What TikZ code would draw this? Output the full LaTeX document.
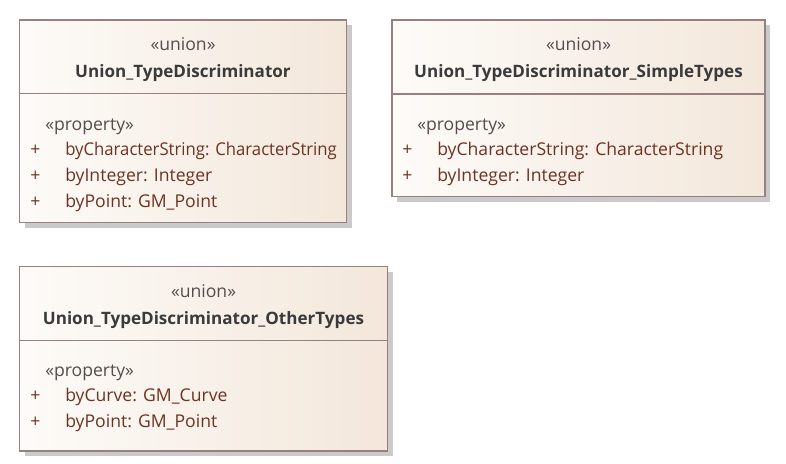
\documentclass[tikz,border=0pt]{standalone}
\usepackage{fontspec}
\usepackage{graphicx}
\setmainfont{Open Sans}
\definecolor{bordc}{HTML}{978080}
\definecolor{shadc}{HTML}{CACACA}
\definecolor{fillL}{HTML}{FDFBF8}
\definecolor{fillR}{HTML}{F3E7DB}
\definecolor{namec}{HTML}{3A3A3A}
\definecolor{stereoc}{HTML}{554C4C}
\definecolor{attrc}{HTML}{6E3222}
\begin{document}
\begin{tikzpicture}[x=0.75pt,y=-0.75pt,
  boxshadow/.style={fill=shadc,draw=none},
  boxbody/.style={left color=fillL,right color=fillR,draw=bordc,line width=1.4pt},
  divline/.style={draw=bordc,line width=1.4pt},
  stereo/.style={inner sep=0pt,anchor=base,text=stereoc,font=\fontsize{13.2pt}{15pt}\selectfont},
  cname/.style={inner sep=0pt,anchor=base,text=namec,font=\fontsize{12.8pt}{15pt}\selectfont\bfseries},
  pstereo/.style={inner sep=0pt,anchor=base west,text=stereoc,font=\fontsize{13.2pt}{15pt}\selectfont},
  attr/.style={inner sep=0pt,anchor=base west,text=attrc,font=\fontsize{13.2pt}{15pt}\selectfont},
]
\useasboundingbox (0,0) rectangle (786,464);
% Box 1
\fill[boxshadow] (24.5,25) rectangle (351.5,227.5);
\draw[boxbody] (19.5,20) rectangle (346.5,222.5);
\draw[divline] (19.5,93.5) -- (346.5,93.5);
\node[stereo] (b1s) at (183,50.5) {«union»};
\node[cname] (b1n) at (183,77.5) {Union\_TypeDiscriminator};
\node[pstereo] (b1p) at (45,130.5) {«property»};
\node[attr] (b1a1p) at (30,155.5) {+};
\node[attr] (b1a1) at (65,155.5) {\scalebox{0.95}[1]{byCharacterString: CharacterString}};
\node[attr] (b1a2p) at (30,181.5) {+};
\node[attr] (b1a2) at (65,181.5) {byInteger: Integer};
\node[attr] (b1a3p) at (30,207.5) {+};
\node[attr] (b1a3) at (65,207.5) {byPoint: GM\_Point};
% Box 2
\fill[boxshadow] (397,25) rectangle (770,201.5);
\draw[boxbody] (392,20) rectangle (765,196.5);
\draw[divline] (392,94) -- (765,94);
\node[stereo] (b2s) at (578.5,50.5) {«union»};
\node[cname] (b2n) at (578.5,77.5) {Union\_TypeDiscriminator\_SimpleTypes};
\node[pstereo] (b2p) at (417,130.5) {«property»};
\node[attr] (b2a1p) at (402,155.5) {+};
\node[attr] (b2a1) at (437,155.5) {byCharacterString: CharacterString};
\node[attr] (b2a2p) at (402,181.5) {+};
\node[attr] (b2a2) at (437,181.5) {byInteger: Integer};
% Box 3
\fill[boxshadow] (24.5,271.5) rectangle (392.5,456);
\draw[boxbody] (19.5,266.5) rectangle (387.5,451);
\draw[divline] (19.5,340.5) -- (387.5,340.5);
\node[stereo] (b3s) at (203.5,297.5) {«union»};
\node[cname] (b3n) at (203.5,324.5) {Union\_TypeDiscriminator\_OtherTypes};
\node[pstereo] (b3p) at (45,376.5) {«property»};
\node[attr] (b3a1p) at (30,401.5) {+};
\node[attr] (b3a1) at (65,401.5) {byCurve: GM\_Curve};
\node[attr] (b3a2p) at (30,427.5) {+};
\node[attr] (b3a2) at (65,427.5) {byPoint: GM\_Point};
\end{tikzpicture}
\end{document}
